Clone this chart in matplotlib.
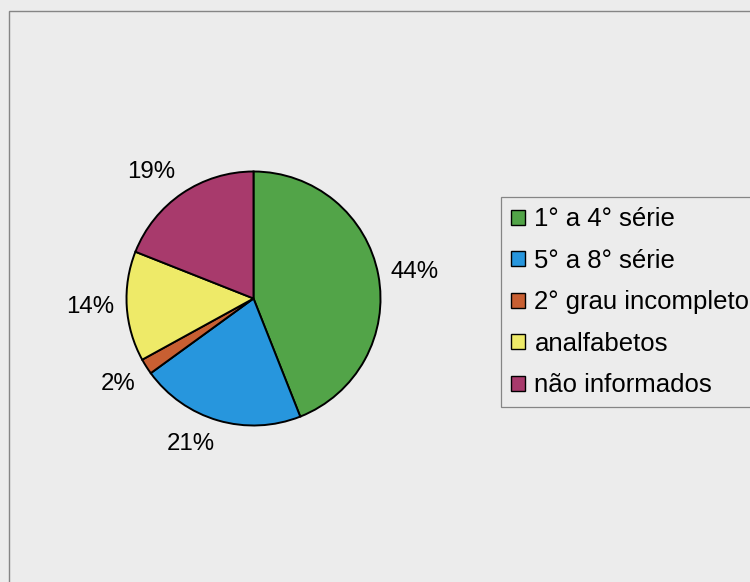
import numpy as np
import matplotlib
matplotlib.use("Agg")
import matplotlib.pyplot as plt
from matplotlib.patches import Patch, Rectangle

# Escolaridade
categories = ["1° a 4° série", "5° a 8° série", "2° grau incompleto",
              "analfabetos", "não informados"]
values = [44, 21, 2, 14, 19]
colors = ["#52a448", "#2796dd", "#c85f32", "#eeea68", "#a83a6c"]

BG = "#ececec"
W, H = 750, 582

plt.rcParams["font.family"] = ["Liberation Sans", "DejaVu Sans"]

fig = plt.figure(figsize=(W / 100, H / 100), dpi=100, facecolor=BG)

# outer chart-area frame (only top and left edges fall inside the canvas)
fig.add_artist(Rectangle((9 / W, -0.2), 1.2, (H - 11) / H + 0.2,
                         transform=fig.transFigure, fill=False,
                         edgecolor="#858585", linewidth=1.0, clip_on=False))

# pie axes: square in pixels, radius 1 data unit = R px
R = 127.0
cx, cy = 253.5, H - 298.5
half = 250.0
lim = half / R
ax = fig.add_axes([(cx - half) / W, (cy - half) / H, 2 * half / W, 2 * half / H])
ax.set_facecolor("none")

wedges, _ = ax.pie(values, colors=colors, startangle=90, counterclock=False,
                   radius=1.0,
                   wedgeprops=dict(edgecolor="black", linewidth=1.4))
ax.set_aspect("auto")
ax.set_xlim(-lim, lim)
ax.set_ylim(-lim, lim)
ax.axis("off")

# percentage labels, anchored just outside each wedge's mid-angle
total = float(sum(values))
for w, v in zip(wedges, values):
    theta = np.deg2rad((w.theta1 + w.theta2) / 2.0)
    c, s = np.cos(theta), np.sin(theta)
    x, y = 1.1 * c, 1.1 * s
    ha = "left" if c > 0 else "right"
    if abs(s) < 0.3:
        va = "center"
    elif s > 0:
        va = "bottom"
    else:
        va = "top"
    ax.text(x, y, f"{v / total * 100:.0f}%", ha=ha, va=va,
            fontsize=17.3, color="black")

handles = [Patch(facecolor=col, edgecolor="black", linewidth=1.0)
           for col in colors]
leg = fig.legend(handles, categories, loc="upper left",
                 bbox_to_anchor=(501 / W, 1 - 197 / H),
                 bbox_transform=fig.transFigure, borderaxespad=0,
                 fontsize=18.5, frameon=True, fancybox=False,
                 handlelength=0.52, handleheight=0.52, handletextpad=0.38,
                 labelspacing=0.68, borderpad=0.4)
frame = leg.get_frame()
frame.set_facecolor(BG)
frame.set_edgecolor("#858585")
frame.set_linewidth(0.9)
frame.set_alpha(1.0)

fig.savefig("out.png", dpi=100, facecolor=BG)
